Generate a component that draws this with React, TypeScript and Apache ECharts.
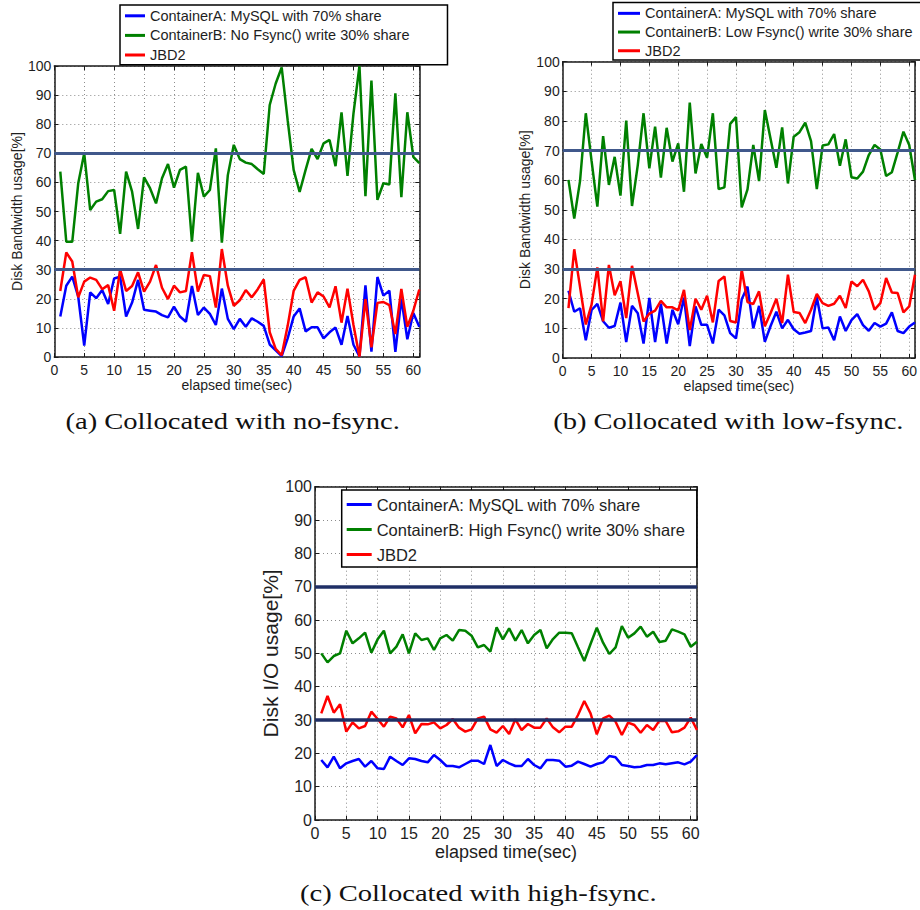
import React, { useEffect, useRef } from 'react';
import * as echarts from 'echarts';

// Sample times (seconds) shared by every trace
const elapsedSec = Array.from({ length: 61 }, (_, i) => i + 1);

// Reserved bandwidth shares drawn as horizontal reference lines
const shareLevels = [70, 30];

const nameMySQL = 'ContainerA: MySQL with 70% share';
const nameNoFsync = 'ContainerB: No Fsync() write 30% share';
const nameLowFsync = 'ContainerB: Low Fsync() write 30% share';
const nameHighFsync = 'ContainerB: High Fsync() write 30% share';
const nameJbd2 = 'JBD2';

const captions = [
  '(a) Collocated with no-fsync.',
  '(b) Collocated with low-fsync.',
  '(c) Collocated with high-fsync.',
];

// (a) collocated with no-fsync writer
const noFsyncMySQL = [
  13.9, 24.5, 27.6, 20.7, 3.9, 22.2, 20.2, 23.0, 18.2, 27.0,
  27.6, 13.9, 18.7, 26.5, 16.2, 15.9, 15.6, 14.4, 13.6, 17.3,
  13.9, 12.1, 24.4, 14.4, 17.0, 14.8, 11.0, 23.5, 13.1, 9.6,
  13.1, 10.4, 13.3, 12.1, 10.7, 4.3, 2.3, 0.3, 6.4, 13.9,
  16.7, 8.8, 10.2, 10.2, 6.4, 8.5, 10.1, 4.2, 14.1, 4.2,
  0.2, 24.6, 1.8, 27.5, 21.1, 22.8, 1.8, 20.1, 6.1, 15.1, 10.4,
];
const noFsyncWriter = [
  63.7, 39.6, 39.6, 59.7, 70.0, 50.5, 53.4, 54.2, 57.0, 57.4,
  42.3, 63.7, 56.8, 44.0, 61.7, 58.0, 52.8, 61.4, 66.3, 58.2,
  64.3, 65.4, 39.6, 63.3, 55.1, 57.4, 71.7, 39.3, 62.5, 72.9,
  68.0, 66.8, 66.3, 64.5, 62.9, 86.6, 94.0, 99.5, 81.4, 64.3,
  56.7, 64.3, 71.5, 68.0, 73.4, 74.6, 65.6, 84.1, 62.2, 83.7,
  100, 55.3, 95.0, 54.0, 59.7, 59.3, 90.6, 54.9, 84.1, 68.8, 66.6,
];
const noFsyncJbd2 = [
  22.7, 35.9, 32.8, 20.5, 25.9, 27.3, 26.5, 23.3, 24.7, 15.9,
  30.1, 22.7, 24.4, 29.1, 22.5, 25.9, 31.6, 23.8, 19.9, 24.5,
  22.2, 22.7, 36.0, 22.5, 28.2, 27.8, 17.0, 37.1, 24.5, 17.6,
  19.5, 23.0, 20.5, 23.3, 26.7, 8.5, 2.8, 0.6, 10.7, 22.7,
  26.5, 27.4, 18.7, 22.2, 20.8, 17.0, 24.3, 11.8, 23.5, 11.0,
  0.1, 19.9, 3.3, 18.6, 18.9, 17.8, 7.9, 23.4, 10.4, 15.9, 23.2,
];

// (b) collocated with low-fsync writer
const lowFsyncMySQL = [
  22.7, 15.6, 16.8, 6.0, 16.2, 18.3, 12.4, 10.2, 10.8, 18.7,
  5.4, 17.6, 15.1, 4.9, 20.3, 5.4, 18.3, 4.9, 16.3, 11.4,
  20.4, 4.0, 17.4, 11.2, 11.2, 4.9, 16.3, 14.4, 8.4, 6.6,
  19.8, 24.1, 10.0, 17.6, 5.5, 10.8, 15.6, 10.0, 12.9, 9.7,
  8.2, 8.6, 9.1, 20.6, 10.0, 10.3, 6.0, 14.0, 9.1, 12.8,
  14.8, 11.1, 9.2, 11.8, 10.6, 11.6, 15.4, 9.1, 8.4, 10.6, 12.0,
];
const lowFsyncWriter = [
  60.1, 47.1, 59.7, 82.6, 66.5, 51.1, 74.9, 58.4, 67.9, 54.8,
  80.1, 51.3, 65.1, 82.6, 64.0, 78.1, 60.9, 77.7, 66.3, 72.4,
  56.1, 86.2, 62.3, 72.2, 67.6, 82.6, 57.0, 57.6, 79.0, 81.3,
  50.8, 56.9, 71.9, 59.7, 83.7, 73.9, 64.2, 77.8, 58.9, 74.7,
  76.2, 79.4, 73.2, 57.0, 71.7, 72.1, 75.6, 64.9, 73.8, 61.0,
  60.6, 62.9, 68.5, 71.9, 70.4, 61.4, 62.7, 69.4, 76.4, 71.9, 60.1,
];
const lowFsyncJbd2 = [
  16.8, 36.7, 24.0, 11.3, 18.0, 30.6, 12.4, 31.4, 21.2, 25.9,
  13.5, 31.1, 21.8, 12.3, 15.0, 16.0, 19.3, 17.1, 17.1, 16.1,
  23.0, 9.4, 20.0, 16.3, 21.0, 12.0, 26.0, 27.5, 12.5, 12.0,
  29.8, 18.9, 18.2, 22.5, 10.7, 15.2, 20.0, 11.8, 28.1, 15.5,
  15.2, 11.8, 16.3, 21.6, 18.5, 17.6, 18.3, 21.0, 16.9, 25.8,
  24.2, 26.4, 22.5, 16.3, 18.5, 27.0, 22.1, 21.9, 15.4, 17.4, 28.1,
];

// (c) collocated with high-fsync writer
const highFsyncMySQL = [
  18.0, 15.8, 19.0, 15.5, 17.0, 17.7, 18.3, 16.0, 17.7, 15.5,
  15.3, 19.0, 17.7, 16.5, 18.5, 18.3, 17.7, 17.3, 19.5, 18.0,
  16.2, 16.2, 15.8, 16.8, 17.8, 17.8, 16.8, 22.5, 16.2, 18.0,
  17.0, 16.2, 16.2, 18.3, 16.5, 15.5, 18.0, 18.0, 17.8, 16.0,
  16.3, 17.5, 16.8, 16.0, 16.8, 17.3, 19.2, 18.8, 16.5, 16.2,
  15.8, 16.0, 16.5, 16.5, 17.0, 16.7, 17.0, 17.3, 16.7, 17.5, 19.5,
];
const highFsyncWriter = [
  50.0, 47.3, 49.2, 50.0, 56.8, 53.0, 54.5, 56.2, 50.2, 54.2,
  56.8, 50.0, 52.0, 55.7, 50.0, 56.0, 54.0, 54.5, 51.0, 54.5,
  55.5, 53.8, 57.0, 56.8, 55.3, 51.8, 52.5, 50.5, 57.8, 54.2,
  57.5, 53.8, 57.0, 53.0, 55.5, 57.0, 51.5, 54.3, 56.2, 56.2,
  56.0, 51.8, 47.7, 52.8, 57.7, 53.2, 49.8, 51.8, 58.2, 54.7,
  56.0, 58.0, 55.0, 56.5, 53.4, 53.8, 57.2, 56.5, 55.7, 52.0, 53.5,
];
const highFsyncJbd2 = [
  32.0, 37.2, 32.2, 34.7, 26.5, 29.3, 27.5, 28.2, 32.5, 30.3,
  28.0, 31.0, 30.5, 27.8, 31.5, 26.0, 28.8, 28.7, 29.3, 27.5,
  28.5, 30.3, 27.7, 26.5, 27.2, 30.5, 31.0, 27.2, 26.2, 28.2,
  25.8, 30.2, 27.0, 28.8, 27.7, 27.7, 30.5, 27.8, 26.3, 28.0,
  28.0, 31.5, 35.7, 32.0, 25.7, 30.5, 31.3, 29.5, 25.5, 29.2,
  28.5, 26.2, 28.5, 27.0, 29.8, 29.7, 26.3, 26.6, 27.7, 30.7, 27.0,
];

const SANS = '"Liberation Sans", Arial, Helvetica, sans-serif';
const SERIF = '"Liberation Serif", "Times New Roman", serif';
const traceColors = ['#0000ff', '#008000', '#ff0000'];

type Panel = {
  grid: { left: number; top: number; width: number; height: number };
  names: string[];
  values: number[][];
  yName: string;
  tickFont: number;
  nameFont: number;
  yNameFont: number;
  yNameGap: number;
  xNameGap: number;
  xLabelMargin: number;
  refColor: string;
  refWidth: number;
  legend: {
    left: number;
    top: number;
    itemWidth: number;
    fontSize: number;
    lineHeight: number;
    padding: number[];
  };
  caption: { x: number; y: number };
};

const panels: Panel[] = [
  {
    grid: { left: 54.3, top: 66, width: 365, height: 291 },
    names: [nameMySQL, nameNoFsync, nameJbd2],
    values: [noFsyncMySQL, noFsyncWriter, noFsyncJbd2],
    yName: 'Disk Bandwidth usage[%]',
    tickFont: 14,
    nameFont: 14,
    yNameFont: 14,
    yNameGap: 29,
    xNameGap: 20,
    xLabelMargin: 6,
    refColor: '#40588b',
    refWidth: 3,
    legend: { left: 120, top: 5, itemWidth: 20, fontSize: 14.5, lineHeight: 19.6, padding: [1, 38, 0, 5] },
    caption: { x: 232.7, y: 421 },
  },
  {
    grid: { left: 562.7, top: 61.7, width: 357.2, height: 296.3 },
    names: [nameMySQL, nameLowFsync, nameJbd2],
    values: [lowFsyncMySQL, lowFsyncWriter, lowFsyncJbd2],
    yName: 'Disk Bandwidth usage[%]',
    tickFont: 14,
    nameFont: 14,
    yNameFont: 14,
    yNameGap: 31,
    xNameGap: 20,
    xLabelMargin: 6,
    refColor: '#40588b',
    refWidth: 3,
    legend: { left: 613, top: 2.5, itemWidth: 22, fontSize: 14.5, lineHeight: 18.7, padding: [1.5, 40, 0, 5] },
    caption: { x: 728.3, y: 421 },
  },
  {
    grid: { left: 315, top: 486.7, width: 382, height: 333.3 },
    names: [nameMySQL, nameHighFsync, nameJbd2],
    values: [highFsyncMySQL, highFsyncWriter, highFsyncJbd2],
    yName: 'Disk I/O usage[%]',
    tickFont: 16,
    nameFont: 18,
    yNameFont: 21,
    yNameGap: 28.5,
    xNameGap: 22.5,
    xLabelMargin: 5,
    refColor: '#1f2f66',
    refWidth: 3.5,
    legend: { left: 341.7, top: 490, itemWidth: 25, fontSize: 16.5, lineHeight: 25, padding: [2, 12, 0, 5] },
    caption: { x: 478.3, y: 893 },
  },
];

const frameLine = { color: '#1a1a1a', width: 1.5 };

function buildOption() {
  const grid: any[] = [];
  const xAxis: any[] = [];
  const yAxis: any[] = [];
  const series: any[] = [];
  const legend: any[] = [];
  const graphic: any[] = [];

  panels.forEach((p, gi) => {
    grid.push({ ...p.grid, containLabel: false });

    const xCommon = {
      gridIndex: gi,
      type: 'value',
      min: 0,
      max: 61,
      interval: 5,
      axisLine: { show: true, onZero: false, lineStyle: frameLine },
      axisTick: { show: true, inside: true, length: 4, lineStyle: { color: '#1a1a1a', width: 1 } },
    };
    const yCommon = {
      gridIndex: gi,
      type: 'value',
      min: 0,
      max: 100,
      interval: 10,
      axisLine: { show: true, onZero: false, lineStyle: frameLine },
      axisTick: { show: true, inside: true, length: 4, lineStyle: { color: '#1a1a1a', width: 1 } },
    };

    xAxis.push({
      ...xCommon,
      position: 'bottom',
      axisLabel: {
        margin: p.xLabelMargin,
        fontFamily: SANS,
        fontSize: p.tickFont,
        color: '#1e1e1e',
        formatter: (v: number) => (v % 5 === 0 ? String(v) : ''),
      },
      splitLine: { show: true, lineStyle: { type: [1, 3], color: '#8c8c8c', width: 1 } },
      name: 'elapsed time(sec)',
      nameLocation: 'middle',
      nameGap: p.xNameGap,
      nameTextStyle: { fontFamily: SANS, fontSize: p.nameFont, color: '#1e1e1e' },
    });
    xAxis.push({
      ...xCommon,
      position: 'top',
      axisLabel: { show: false },
      splitLine: { show: false },
    });

    yAxis.push({
      ...yCommon,
      position: 'left',
      axisLabel: { margin: 3, fontFamily: SANS, fontSize: p.tickFont, color: '#1e1e1e' },
      splitLine: { show: true, lineStyle: { type: [1, 3], color: '#8c8c8c', width: 1 } },
      name: p.yName,
      nameLocation: 'middle',
      nameRotate: 90,
      nameGap: p.yNameGap,
      nameTextStyle: { fontFamily: SANS, fontSize: p.yNameFont, color: '#1e1e1e' },
    });
    yAxis.push({
      ...yCommon,
      position: 'right',
      axisLabel: { show: false },
      splitLine: { show: false },
    });

    p.values.forEach((vals, si) => {
      const s: any = {
        type: 'line',
        name: p.names[si],
        xAxisIndex: gi * 2,
        yAxisIndex: gi * 2,
        data: elapsedSec.map((t, k) => [t, vals[k]]),
        showSymbol: false,
        symbol: 'none',
        color: traceColors[si],
        lineStyle: { color: traceColors[si], width: 2.5 },
        z: 2 + si * 0.1,
      };
      if (si === p.values.length - 1) {
        s.markLine = {
          silent: true,
          symbol: 'none',
          z: 5,
          label: { show: false },
          lineStyle: { color: p.refColor, width: p.refWidth, type: 'solid' },
          emphasis: { disabled: true },
          data: shareLevels.map((lvl) => ({ yAxis: lvl })),
        };
      }
      series.push(s);
    });

    legend.push({
      orient: 'vertical',
      left: p.legend.left,
      top: p.legend.top,
      data: p.names.map((n) => ({ name: n })),
      icon: 'rect',
      itemWidth: p.legend.itemWidth,
      itemHeight: 3,
      itemGap: 0,
      padding: p.legend.padding,
      borderColor: '#000',
      borderWidth: 1.5,
      borderRadius: 0,
      backgroundColor: '#ffffff',
      selectedMode: false,
      z: 6,
      textStyle: {
        fontFamily: SANS,
        fontSize: p.legend.fontSize,
        lineHeight: p.legend.lineHeight,
        color: '#1e1e1e',
      },
    });

    graphic.push({
      type: 'text',
      x: p.caption.x,
      y: p.caption.y,
      scaleX: 1.19,
      silent: true,
      style: {
        text: captions[gi],
        font: `24px ${SERIF}`,
        fill: '#111',
        textAlign: 'center',
        textVerticalAlign: 'middle',
        align: 'center',
        verticalAlign: 'middle',
      },
    });
  });

  return {
    animation: false,
    backgroundColor: '#ffffff',
    textStyle: { fontFamily: SANS },
    grid,
    xAxis,
    yAxis,
    legend,
    series,
    graphic,
  };
}

export default function App() {
  const ref = useRef<HTMLDivElement>(null);

  useEffect(() => {
    if (!ref.current) return;
    const chart = echarts.init(ref.current, undefined, { renderer: 'svg' });
    chart.setOption(buildOption() as any);
    return () => chart.dispose();
  }, []);

  return (
    <div
      ref={ref}
      style={{ position: 'absolute', left: 0, top: 0, width: 920, height: 910, background: '#fff' }}
    />
  );
}
